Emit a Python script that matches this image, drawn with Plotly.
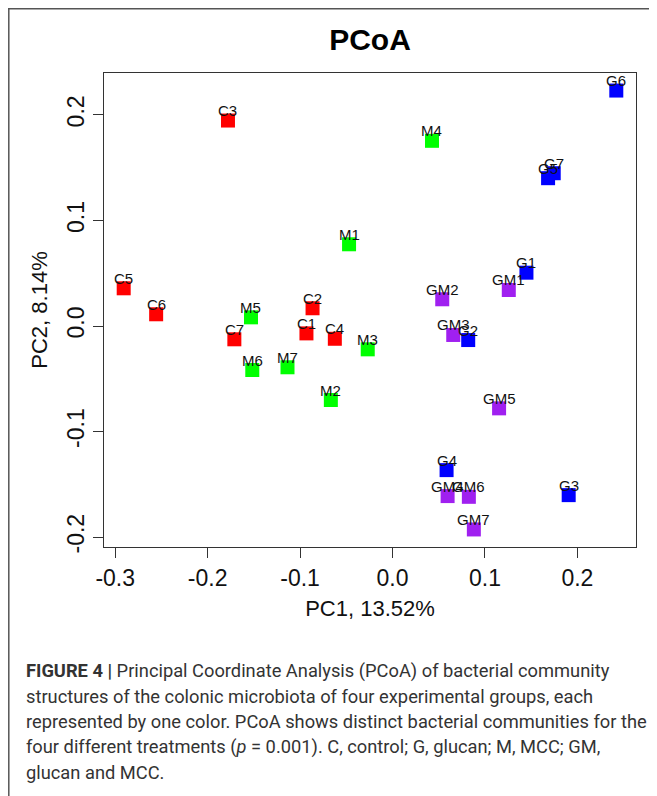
import plotly.graph_objects as go

# ---- data ----
c_labels = ["C1", "C2", "C3", "C4", "C5", "C6", "C7"]
c_pc1 = [-0.0931, -0.0865, -0.1780, -0.0624, -0.2908, -0.2557, -0.1711]
c_pc2 = [-0.0070, 0.0168, 0.1946, -0.0121, 0.0357, 0.0111, -0.0126]

g_labels = ["G1", "G2", "G3", "G4", "G5", "G6", "G7"]
g_pc1 = [0.1449, 0.0819, 0.1906, 0.0585, 0.1683, 0.2421, 0.1744]
g_pc2 = [0.0505, -0.0133, -0.1602, -0.1365, 0.1400, 0.2230, 0.1447]

m_labels = ["M1", "M2", "M3", "M4", "M5", "M6", "M7"]
m_pc1 = [-0.0470, -0.0667, -0.0268, 0.0427, -0.1531, -0.1517, -0.1136]
m_pc2 = [0.0774, -0.0701, -0.0221, 0.1754, 0.0082, -0.0417, -0.0391]

gm_labels = ["GM1", "GM2", "GM3", "GM4", "GM5", "GM6", "GM7"]
gm_pc1 = [0.1258, 0.0538, 0.0657, 0.0596, 0.1153, 0.0826, 0.0880]
gm_pc2 = [0.0341, 0.0253, -0.0085, -0.1611, -0.0780, -0.1618, -0.1927]

x_ticks = [-0.3, -0.2, -0.1, 0.0, 0.1, 0.2]
x_ticktext = ["-0.3", "-0.2", "-0.1", "0.0", "0.1", "0.2"]
y_ticks = [-0.2, -0.1, 0.0, 0.1, 0.2]
y_ticktext = ["-0.2", "-0.1", "0.0", "0.1", "0.2"]

groups = [
    (c_labels, c_pc1, c_pc2, "#FF0000"),
    (g_labels, g_pc1, g_pc2, "#0000FF"),
    (m_labels, m_pc1, m_pc2, "#00FF00"),
    (gm_labels, gm_pc1, gm_pc2, "#A020F0"),
]

FONT = "Liberation Sans, Arial, Helvetica, sans-serif"

fig = go.Figure()
annotations = []
for labels, xs, ys, col in groups:
    fig.add_trace(go.Scatter(
        x=xs, y=ys, mode="markers",
        marker=dict(symbol="square", size=14, color=col, line=dict(width=0)),
        showlegend=False, hoverinfo="text", text=labels,
    ))
    for lab, xv, yv in zip(labels, xs, ys):
        annotations.append(dict(
            x=xv, y=yv, xref="x", yref="y", text=lab, showarrow=False,
            yshift=10, xanchor="center", yanchor="middle",
            font=dict(family=FONT, size=15, color="#111111"),
        ))

# R-style 4% range extension
all_x = c_pc1 + g_pc1 + m_pc1 + gm_pc1
all_y = c_pc2 + g_pc2 + m_pc2 + gm_pc2
xr = max(all_x) - min(all_x)
yr = max(all_y) - min(all_y)
x_range = [min(all_x) - 0.04 * xr, max(all_x) + 0.04 * xr]
y_range = [min(all_y) - 0.04 * yr, max(all_y) + 0.04 * yr]

# page has an 8px body margin, so the figure is 8px smaller and offset
OFF = 8
W, H = 657 - OFF, 796 - OFF
ML, MR, MT, MB = 96, 21, 65, 249
pw, ph = W - ML - MR, H - MT - MB


def px_to_paper_x(px):  # px in screen pixels
    return (px - OFF - ML) / pw


def px_to_paper_y(py):
    return (H - MB - (py - OFF)) / ph


caption_lines = [
    "<b>FIGURE 4 |</b> Principal Coordinate Analysis (PCoA) of bacterial community",
    "structures of the colonic microbiota of four experimental groups, each",
    "represented by one color. PCoA shows distinct bacterial communities for the",
    "four different treatments (<i>p</i> = 0.001). C, control; G, glucan; M, MCC; GM,",
    "glucan and MCC.",
]
cap_y0 = 671
for i, line in enumerate(caption_lines):
    annotations.append(dict(
        x=px_to_paper_x(24), y=px_to_paper_y(cap_y0 + 25.3 * i),
        xref="paper", yref="paper", text=line, showarrow=False,
        xanchor="left", yanchor="middle", align="left",
        font=dict(family="Roboto, Liberation Sans, sans-serif", size=18.3, color="#333333"),
    ))

shapes = [
    dict(type="line", xref="paper", yref="paper",
         x0=px_to_paper_x(8), x1=px_to_paper_x(700),
         y0=px_to_paper_y(8.8), y1=px_to_paper_y(8.8),
         line=dict(color="#555555", width=1.5)),
    dict(type="line", xref="paper", yref="paper",
         x0=px_to_paper_x(8.8), x1=px_to_paper_x(8.8),
         y0=px_to_paper_y(8), y1=px_to_paper_y(850),
         line=dict(color="#555555", width=1.5)),
]

axis_common = dict(
    showgrid=False, zeroline=False, showline=True, mirror=True,
    linecolor="#333333", linewidth=1.3,
    ticks="outside", ticklen=10, tickwidth=1.3, tickcolor="#333333",
    tickfont=dict(family=FONT, size=23, color="#111111"),
    title_font=dict(family=FONT, size=22, color="#111111"),
)

fig.update_layout(
    width=W, height=H,
    margin=dict(l=ML, r=MR, t=MT, b=MB, autoexpand=False),
    paper_bgcolor="white", plot_bgcolor="white",
    title=dict(text="<b>PCoA</b>", x=0.5, xref="paper", xanchor="center",
               y=1 - (39 - OFF) / H, yref="container", yanchor="middle",
               font=dict(family=FONT, size=30, color="#000000")),
    xaxis=dict(range=x_range, tickvals=x_ticks, ticktext=x_ticktext,
               title=dict(text="PC1, 13.52%", standoff=10), **axis_common),
    yaxis=dict(range=y_range, tickvals=y_ticks, ticktext=y_ticktext, tickangle=-90,
               title=dict(text="PC2, 8.14%", standoff=8), **axis_common),
    annotations=annotations,
    shapes=shapes,
)

fig.write_html("out.html")
